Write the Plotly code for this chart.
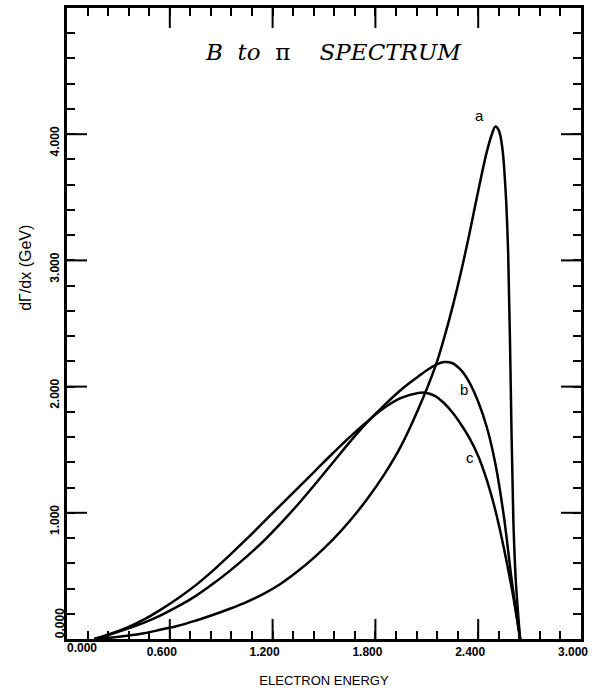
import plotly.graph_objects as go

# ---- data ----
a_x = [0.16, 0.25, 0.35, 0.45, 0.55, 0.65, 0.75, 0.85, 0.95, 1.05, 1.15, 1.25, 1.35, 1.45,
       1.55, 1.65, 1.75, 1.85, 1.95, 2.05, 2.15, 2.20, 2.25, 2.30, 2.35, 2.40, 2.45, 2.48,
       2.50, 2.52, 2.54, 2.56, 2.575, 2.585, 2.595, 2.605, 2.62, 2.645]
a_y = [0.0, 0.01, 0.025, 0.045, 0.075, 0.105, 0.145, 0.19, 0.24, 0.295, 0.36, 0.44, 0.54, 0.655,
       0.785, 0.935, 1.105, 1.30, 1.53, 1.82, 2.16, 2.38, 2.63, 2.91, 3.22, 3.55, 3.86, 4.00,
       4.06, 4.03, 3.90, 3.55, 3.05, 2.40, 1.60, 0.95, 0.45, 0.0]

b_x = [0.16, 0.25, 0.35, 0.45, 0.55, 0.65, 0.75, 0.85, 0.95, 1.05, 1.15, 1.25, 1.35, 1.45,
       1.55, 1.65, 1.75, 1.85, 1.95, 2.05, 2.10, 2.15, 2.20, 2.25, 2.30, 2.35, 2.40, 2.45,
       2.50, 2.55, 2.60, 2.645]
b_y = [0.0, 0.035, 0.08, 0.13, 0.19, 0.26, 0.34, 0.435, 0.54, 0.655, 0.78, 0.92, 1.07, 1.23,
       1.395, 1.56, 1.715, 1.85, 1.975, 2.08, 2.13, 2.17, 2.195, 2.185, 2.13, 2.03, 1.88, 1.68,
       1.39, 0.97, 0.42, 0.0]

c_x = [0.16, 0.25, 0.35, 0.45, 0.55, 0.65, 0.75, 0.85, 0.95, 1.05, 1.15, 1.25, 1.35, 1.45,
       1.55, 1.65, 1.75, 1.85, 1.95, 2.05, 2.10, 2.15, 2.20, 2.25, 2.30, 2.35, 2.40, 2.45,
       2.50, 2.55, 2.60, 2.645]
c_y = [0.0, 0.04, 0.09, 0.155, 0.235, 0.325, 0.425, 0.54, 0.665, 0.795, 0.93, 1.065, 1.20, 1.335,
       1.47, 1.60, 1.72, 1.83, 1.91, 1.95, 1.95, 1.925, 1.87, 1.795, 1.70, 1.59, 1.45, 1.26,
       1.02, 0.72, 0.37, 0.0]

curve_labels = ["a", "b", "c"]
label_x = [2.41, 2.32, 2.355]
label_y = [4.15, 1.98, 1.44]

x_tickvals = [0.6, 1.2, 1.8, 2.4, 3.0]
x_zero_tick = [0.0]
y_tickvals = [1.0, 2.0, 3.0, 4.0, 5.0]
y_zero_tick = [0.0]
x_major_ticks = [0.6, 1.2, 1.8, 2.4]
y_major_ticks = [1.0, 2.0, 3.0, 4.0]
x_minor_step = 0.12
y_minor_step = 0.2

x_title = "ELECTRON ENERGY"
y_title = "dΓ/dx (GeV)"
chart_title = "<i>B</i>\u00a0\u00a0<i>to</i>\u00a0\u00a0π\u00a0\u00a0\u00a0\u00a0<i>SPECTRUM</i>"

X_RANGE = [0, 3.0]
Y_RANGE = [0, 5.0]
MAJOR_LEN = 20

fig = go.Figure()
for xs, ys in [(a_x, a_y), (b_x, b_y), (c_x, c_y)]:
    fig.add_trace(go.Scatter(x=xs, y=ys, mode="lines",
                             line=dict(color="black", width=2.5, shape="spline", smoothing=1.0),
                             showlegend=False, hoverinfo="skip"))

# invisible traces anchoring the overlay axes (zero labels, minor ticks)
for k in ("2", "3"):
    fig.add_trace(go.Scatter(x=x_zero_tick, y=y_zero_tick, xaxis="x" + k, yaxis="y" + k,
                             mode="markers", marker=dict(opacity=0),
                             showlegend=False, hoverinfo="skip"))

for t, lx, ly in zip(curve_labels, label_x, label_y):
    fig.add_annotation(x=lx, y=ly, text=t, showarrow=False,
                       font=dict(family="Liberation Sans", size=15, color="black"))

fig.add_annotation(xref="paper", yref="paper", x=0.519, y=0.931, xanchor="center", yanchor="middle",
                   text=chart_title, showarrow=False,
                   font=dict(family="DejaVu Serif", size=23, color="black"))

# y-axis title placed off-centre, as in the reference
fig.add_annotation(xref="paper", yref="paper", x=-0.08, y=0.588, xanchor="center", yanchor="middle",
                   text=y_title, textangle=-90, showarrow=False,
                   font=dict(family="Liberation Sans", size=16, color="black"))

# long major tick marks on all four sides, placed at the major tick values (pixel length)
tick_line = dict(color="black", width=2)
for xv in x_major_ticks:
    fig.add_shape(type="line", xref="x", yref="paper", ysizemode="pixel", yanchor=0,
                  x0=xv, x1=xv, y0=0, y1=MAJOR_LEN, line=tick_line)
    fig.add_shape(type="line", xref="x", yref="paper", ysizemode="pixel", yanchor=1,
                  x0=xv, x1=xv, y0=0, y1=-MAJOR_LEN, line=tick_line)
for yv in y_major_ticks:
    fig.add_shape(type="line", xref="paper", yref="y", xsizemode="pixel", xanchor=0,
                  x0=0, x1=MAJOR_LEN, y0=yv, y1=yv, line=tick_line)
    fig.add_shape(type="line", xref="paper", yref="y", xsizemode="pixel", xanchor=1,
                  x0=0, x1=-MAJOR_LEN, y0=yv, y1=yv, line=tick_line)

tickfont = dict(family="Liberation Sans", size=12, color="black", weight="bold")

fig.update_layout(
    width=598, height=694,
    margin=dict(l=67, r=17, t=5, b=55),
    paper_bgcolor="white", plot_bgcolor="white",
    xaxis=dict(
        range=X_RANGE, tickmode="array", tickvals=x_tickvals, tickformat=".3f",
        showgrid=False, zeroline=False, showline=True, linewidth=3, linecolor="black",
        mirror=True, ticks="", tickfont=tickfont, ticklabelshift=-8,
        title=dict(text=x_title, font=dict(family="Liberation Sans", size=13, color="black"),
                   standoff=18),
    ),
    yaxis=dict(
        range=Y_RANGE, tickmode="array", tickvals=y_tickvals, tickformat=".3f", tickangle=-90,
        showgrid=False, zeroline=False, showline=True, linewidth=3, linecolor="black",
        mirror=True, ticks="", tickfont=tickfont, ticklabelshift=9,
    ),
    xaxis2=dict(range=X_RANGE, overlaying="x", anchor="y", side="bottom", tickmode="array",
                tickvals=x_zero_tick, tickformat=".3f", showgrid=False, zeroline=False,
                showline=False, ticks="", tickfont=tickfont, ticklabelshift=15),
    yaxis2=dict(range=Y_RANGE, overlaying="y", anchor="x", side="left", tickmode="array",
                tickvals=y_zero_tick, tickformat=".3f", tickangle=-90, showgrid=False,
                zeroline=False, showline=False, ticks="", tickfont=tickfont, ticklabelshift=-14),
    xaxis3=dict(range=X_RANGE, overlaying="x", anchor="y", side="bottom", tickmode="linear",
                tick0=0, dtick=x_minor_step, showgrid=False, zeroline=False, showline=False,
                showticklabels=False, ticks="inside", ticklen=8, tickwidth=2, tickcolor="black",
                mirror="allticks"),
    yaxis3=dict(range=Y_RANGE, overlaying="y", anchor="x", side="left", tickmode="linear",
                tick0=0, dtick=y_minor_step, showgrid=False, zeroline=False, showline=False,
                showticklabels=False, ticks="inside", ticklen=8, tickwidth=2, tickcolor="black",
                mirror="allticks"),
)

fig.write_html("out.html")
